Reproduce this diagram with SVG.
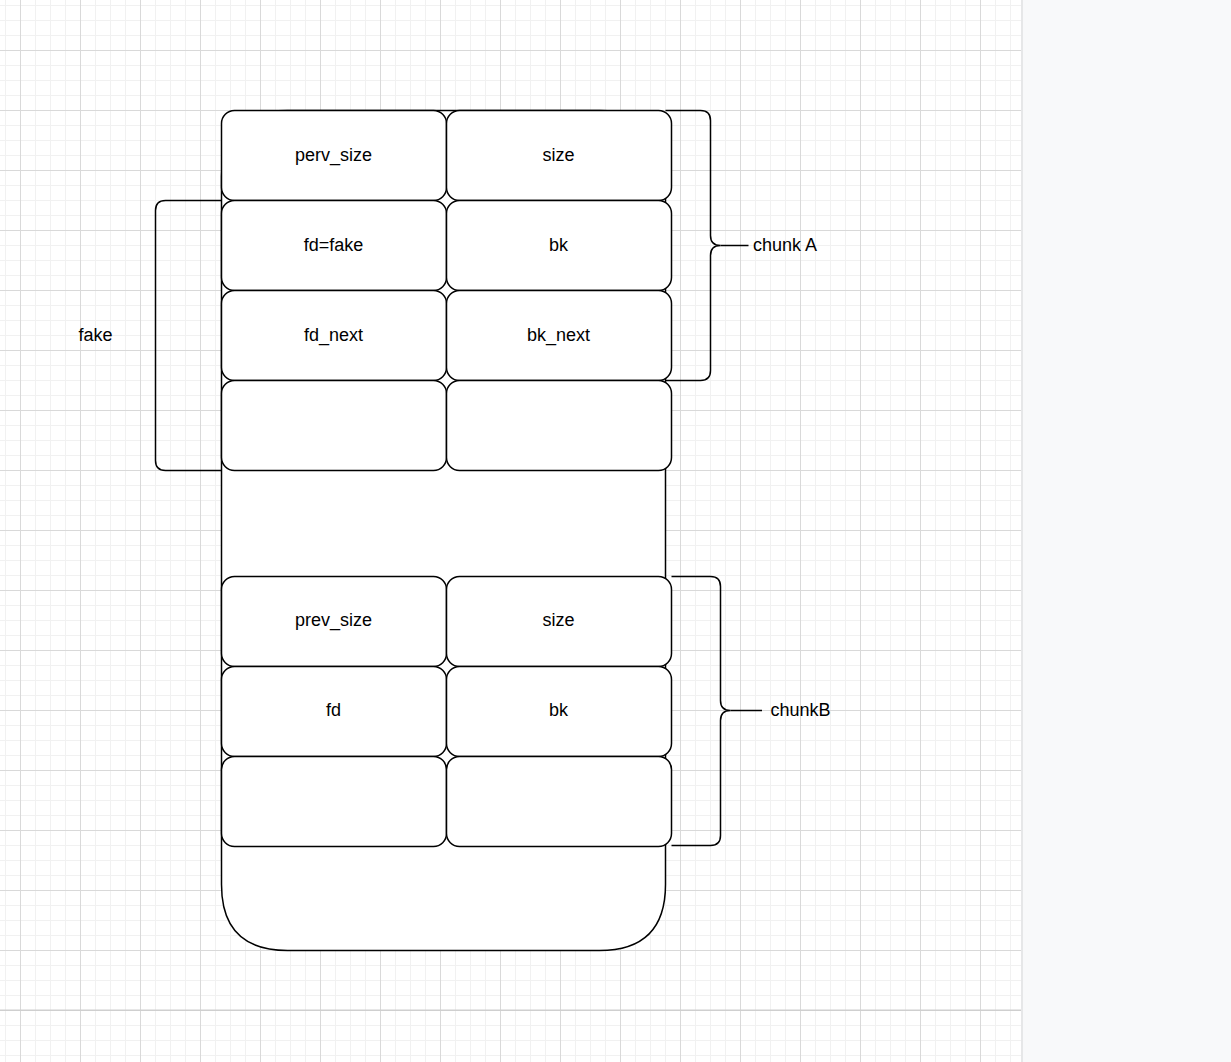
<svg xmlns="http://www.w3.org/2000/svg" width="1231" height="1062" viewBox="0 0 1231 1062">
<defs>
<pattern id="grid" patternUnits="userSpaceOnUse" x="20" y="50" width="60" height="60">
<rect x="15" y="0" width="1" height="60" fill="#f1f1f1"/>
<rect x="30" y="0" width="1" height="60" fill="#f1f1f1"/>
<rect x="45" y="0" width="1" height="60" fill="#f1f1f1"/>
<rect x="0" y="15" width="60" height="1" fill="#f1f1f1"/>
<rect x="0" y="30" width="60" height="1" fill="#f1f1f1"/>
<rect x="0" y="45" width="60" height="1" fill="#f1f1f1"/>
<rect x="0" y="0" width="1" height="60" fill="#d9d9d9"/>
<rect x="0" y="0" width="60" height="1" fill="#d9d9d9"/>
</pattern>
</defs>
<style>
.cell{fill:#ffffff;stroke:#000000;stroke-width:1.5}
.line{fill:none;stroke:#000000;stroke-width:1.5}
.lbl{font-family:"Liberation Sans",Arial,sans-serif;font-size:18px;fill:#000000;text-anchor:middle}
.lbll{font-family:"Liberation Sans",Arial,sans-serif;font-size:18px;fill:#000000;text-anchor:start}
</style>
<rect x="0" y="0" width="1231" height="1062" fill="#ffffff"/>
<rect x="0" y="0" width="1022" height="1062" fill="url(#grid)"/>
<rect x="0" y="1009.5" width="1022" height="1.5" fill="#cfcfcf"/>
<rect x="1022" y="0" width="209" height="1062" fill="#f8f9fa"/>
<rect x="1021" y="0" width="2" height="1062" fill="#e6e7e8"/>

<g id="memory">
<path class="cell" d="M287.5,110.5 H599.5 Q665.5,110.5 665.5,176.5 V884.5 Q665.5,950.5 599.5,950.5 H287.5 Q221.5,950.5 221.5,884.5 V176.5 Q221.5,110.5 287.5,110.5 Z"/>
</g>

<g id="a-perv_size"><rect class="cell" x="221.5" y="110.5" width="225" height="90" rx="13"/><text class="lbl" x="333.5" y="160.5">perv_size</text></g>
<g id="a-size"><rect class="cell" x="446.5" y="110.5" width="225" height="90" rx="13"/><text class="lbl" x="558.5" y="160.5">size</text></g>
<g id="a-fd"><rect class="cell" x="221.5" y="200.5" width="225" height="90" rx="13"/><text class="lbl" x="333.5" y="250.5">fd=fake</text></g>
<g id="a-bk"><rect class="cell" x="446.5" y="200.5" width="225" height="90" rx="13"/><text class="lbl" x="558.5" y="250.5">bk</text></g>
<g id="a-fd_next"><rect class="cell" x="221.5" y="290.5" width="225" height="90" rx="13"/><text class="lbl" x="333.5" y="340.5">fd_next</text></g>
<g id="a-bk_next"><rect class="cell" x="446.5" y="290.5" width="225" height="90" rx="13"/><text class="lbl" x="558.5" y="340.5">bk_next</text></g>
<g id="a-empty1"><rect class="cell" x="221.5" y="380.5" width="225" height="90" rx="13"/></g>
<g id="a-empty2"><rect class="cell" x="446.5" y="380.5" width="225" height="90" rx="13"/></g>

<g id="b-prev_size"><rect class="cell" x="221.5" y="576.5" width="225" height="90" rx="13"/><text class="lbl" x="333.5" y="625.5">prev_size</text></g>
<g id="b-size"><rect class="cell" x="446.5" y="576.5" width="225" height="90" rx="13"/><text class="lbl" x="558.5" y="625.5">size</text></g>
<g id="b-fd"><rect class="cell" x="221.5" y="666.5" width="225" height="90" rx="13"/><text class="lbl" x="333.5" y="715.5">fd</text></g>
<g id="b-bk"><rect class="cell" x="446.5" y="666.5" width="225" height="90" rx="13"/><text class="lbl" x="558.5" y="715.5">bk</text></g>
<g id="b-empty1"><rect class="cell" x="221.5" y="756.5" width="225" height="90" rx="13"/></g>
<g id="b-empty2"><rect class="cell" x="446.5" y="756.5" width="225" height="90" rx="13"/></g>

<g id="fake-bracket">
<path class="line" d="M221.5,200.5 H165.5 Q155.5,200.5 155.5,210.5 V460.5 Q155.5,470.5 165.5,470.5 H221.5"/>
<text class="lbl" x="95.5" y="340.5">fake</text>
</g>

<g id="chunkA-brace">
<path class="line" d="M665.5,110.5 H700.5 Q710.5,110.5 710.5,120.5 V235.5 Q710.5,245.5 720.5,245.5 Q710.5,245.5 710.5,255.5 V370.5 Q710.5,380.5 700.5,380.5 H665.5"/>
<path class="line" d="M720.5,245.5 H748.5"/>
<text class="lbll" x="753" y="250.5">chunk A</text>
</g>

<g id="chunkB-brace">
<path class="line" d="M671.5,576.5 H710.5 Q720.5,576.5 720.5,586.5 V700.5 Q720.5,710.5 730.5,710.5 Q720.5,710.5 720.5,720.5 V835.5 Q720.5,845.5 710.5,845.5 H671.5"/>
<path class="line" d="M730.5,710.5 H762"/>
<text class="lbll" x="770.5" y="715.5">chunkB</text>
</g>
</svg>
